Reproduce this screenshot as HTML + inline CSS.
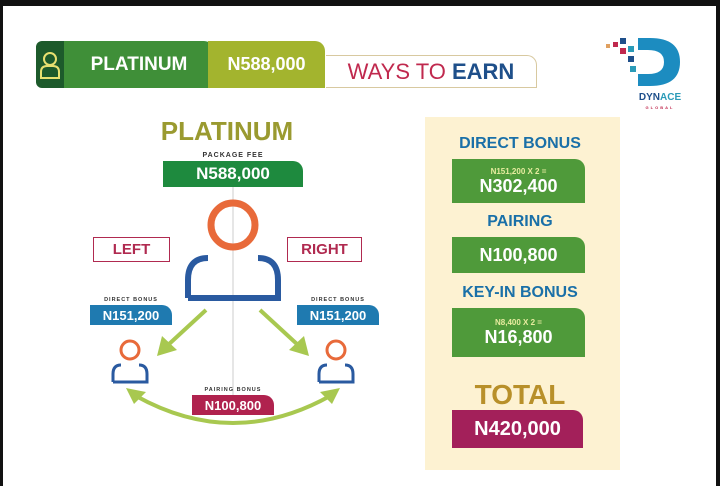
<!DOCTYPE html>
<html><head><meta charset="utf-8"><style>
*{margin:0;padding:0;box-sizing:border-box}
body{width:720px;height:486px;background:#111;overflow:hidden;font-family:"Liberation Sans",sans-serif;position:relative}
.a{position:absolute}
.page{left:3px;top:6px;width:713px;height:480px;background:#fff}
.c{display:flex;align-items:center;justify-content:center;font-weight:bold;color:#fff}
.rt{border-top-right-radius:10px}
</style></head><body>
<div class="a page"></div>
<div class="a c" style="left:36px;top:41px;width:28px;height:47px;background:#1d5a2b;border-radius:6px 0 0 6px">
<svg width="22" height="30" viewBox="0 0 22 30"><circle cx="11" cy="9" r="6" fill="none" stroke="#e8e070" stroke-width="2"/><path d="M2 28 V22 Q2 16 8 16 H14 Q20 16 20 22 V28 Z" fill="none" stroke="#e8e070" stroke-width="2"/></svg></div>
<div class="a c rt" style="left:64px;top:41px;width:150px;height:47px;background:#3f8f38;font-size:19px">PLATINUM</div>
<div class="a c rt" style="left:208px;top:41px;width:117px;height:47px;background:#a3b42e;font-size:18px">N588,000</div>
<div class="a c rt" style="left:326px;top:55px;width:211px;height:33px;border:1.5px solid #d8c9a0;border-left:none;font-weight:normal;color:#c0294e;font-size:22px">WAYS TO&nbsp;<b style="color:#1e4f8a">EARN</b></div>
<svg class="a" style="left:600px;top:34px" width="90" height="80" viewBox="0 0 90 80">
<rect x="6" y="10" width="4" height="4" fill="#e0a060"/><rect x="13" y="8" width="5" height="5" fill="#c0294e"/><rect x="20" y="4" width="6" height="6" fill="#1e4f8a"/><rect x="20" y="14" width="6" height="6" fill="#c0294e"/><rect x="28" y="12" width="6" height="6" fill="#2a9bb8"/><rect x="28" y="22" width="6" height="6" fill="#1e4f8a"/><rect x="30" y="32" width="6" height="6" fill="#2a9bb8"/>
<path d="M38 4 H50 Q80 4 80 28 Q80 52 50 52 H38 V40 H48 Q64 40 64 28 Q64 16 48 16 H38 Z" fill="#1c8cc0"/>
<text x="60" y="66" font-size="10" font-weight="bold" fill="#1e4f8a" text-anchor="middle" font-family="Liberation Sans">DYN<tspan fill="#2a9bb8">ACE</tspan></text>
<text x="60" y="75" font-size="4" font-weight="bold" fill="#c0294e" text-anchor="middle" letter-spacing="2">GLOBAL</text></svg>

<div class="a c" style="left:127px;top:116px;width:200px;height:30px;color:#9a9a30;font-size:26px">PLATINUM</div>
<div class="a c" style="left:163px;top:150px;width:140px;height:10px;color:#333;font-size:7px;letter-spacing:1px">PACKAGE FEE</div>
<div class="a c rt" style="left:163px;top:161px;width:140px;height:26px;background:#1e8a3e;font-size:17px">N588,000</div>
<svg class="a" style="left:0;top:0" width="420" height="486">
<line x1="233" y1="187" x2="233" y2="405" stroke="#ccc" stroke-width="1"/>
<circle cx="233" cy="225" r="22" fill="none" stroke="#e86a3a" stroke-width="7"/>
<path d="M188 298 V280 Q188 258 208 258 M258 258 Q278 258 278 280 V298 H188" fill="none" stroke="#2a5aa0" stroke-width="6"/>
<circle cx="130" cy="350" r="9" fill="none" stroke="#e86a3a" stroke-width="3"/>
<path d="M113 382 V374 Q113 365 121 365 M139 365 Q147 365 147 374 V382 H113" fill="none" stroke="#2a5aa0" stroke-width="3"/>
<circle cx="336" cy="350" r="9" fill="none" stroke="#e86a3a" stroke-width="3"/>
<path d="M319 382 V374 Q319 365 327 365 M345 365 Q353 365 353 374 V382 H319" fill="none" stroke="#2a5aa0" stroke-width="3"/>
<line x1="206" y1="310" x2="168" y2="345" stroke="#a8c850" stroke-width="4"/><polygon points="157,356 162,336 177,350" fill="#a8c850"/>
<line x1="260" y1="310" x2="298" y2="345" stroke="#a8c850" stroke-width="4"/><polygon points="309,356 304,336 289,350" fill="#a8c850"/>
<path d="M136 396 Q233 450 330 396" fill="none" stroke="#a8c850" stroke-width="4"/>
<polygon points="126,388 146,392 134,404" fill="#a8c850"/><polygon points="340,388 320,392 332,404" fill="#a8c850"/>
</svg>
<div class="a c" style="left:93px;top:237px;width:77px;height:25px;border:1.5px solid #b02a50;color:#b02a50;font-size:15px">LEFT</div>
<div class="a c" style="left:287px;top:237px;width:75px;height:25px;border:1.5px solid #b02a50;color:#b02a50;font-size:15px">RIGHT</div>
<div class="a c" style="left:90px;top:296px;width:82px;height:8px;color:#333;font-size:5.5px;letter-spacing:1px">DIRECT BONUS</div>
<div class="a c rt" style="left:90px;top:305px;width:82px;height:20px;background:#1f7ab0;font-size:13px">N151,200</div>
<div class="a c" style="left:297px;top:296px;width:82px;height:8px;color:#333;font-size:5.5px;letter-spacing:1px">DIRECT BONUS</div>
<div class="a c rt" style="left:297px;top:305px;width:82px;height:20px;background:#1f7ab0;font-size:13px">N151,200</div>
<div class="a c" style="left:192px;top:386px;width:82px;height:8px;color:#333;font-size:5.5px;letter-spacing:1px">PAIRING BONUS</div>
<div class="a c rt" style="left:192px;top:395px;width:82px;height:20px;background:#b0224e;font-size:13px">N100,800</div>

<div class="a" style="left:425px;top:117px;width:195px;height:353px;background:#fdf2d2"></div>
<div class="a c" style="left:425px;top:134px;width:190px;height:20px;color:#1a70a8;font-size:16px">DIRECT BONUS</div>
<div class="a rt" style="left:452px;top:159px;width:133px;height:44px;background:#4f9a3a;color:#fff;font-weight:bold;text-align:center"><div style="font-size:8px;color:#e8eca0;margin-top:8px">N151,200 X 2 =</div><div style="font-size:18px">N302,400</div></div>
<div class="a c" style="left:425px;top:212px;width:190px;height:20px;color:#1a70a8;font-size:16px">PAIRING</div>
<div class="a c rt" style="left:452px;top:237px;width:133px;height:36px;background:#4f9a3a;font-size:18px">N100,800</div>
<div class="a c" style="left:425px;top:283px;width:190px;height:20px;color:#1a70a8;font-size:16px">KEY-IN BONUS</div>
<div class="a rt" style="left:452px;top:308px;width:133px;height:49px;background:#4f9a3a;color:#fff;font-weight:bold;text-align:center"><div style="font-size:8px;color:#e8eca0;margin-top:10px">N8,400 X 2 =</div><div style="font-size:18px">N16,800</div></div>
<div class="a c" style="left:425px;top:380px;width:190px;height:30px;color:#b8902a;font-size:28px">TOTAL</div>
<div class="a c rt" style="left:452px;top:410px;width:131px;height:38px;background:#a3205a;font-size:20px">N420,000</div>
</body></html>
